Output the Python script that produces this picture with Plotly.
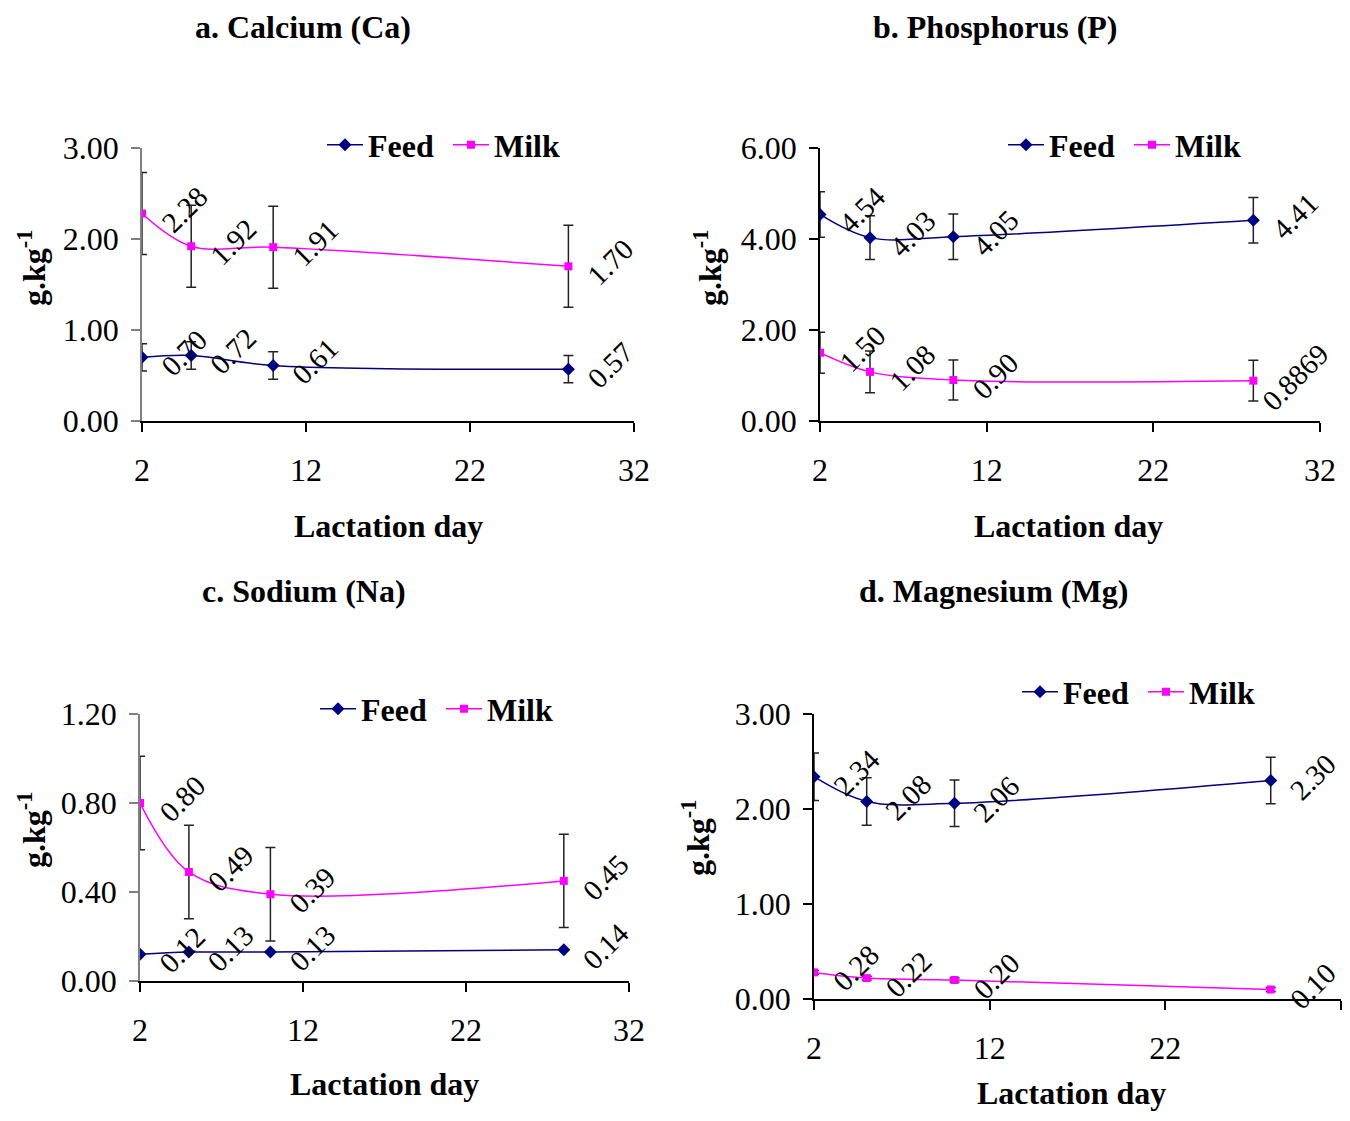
import plotly.graph_objects as go

# ---------------- data ----------------
days = [2, 5, 10, 28]
x_ticks = [2, 12, 22, 32]

ca_feed = [0.70, 0.72, 0.61, 0.57]
ca_feed_err = [0.15, 0.15, 0.15, 0.15]
ca_milk = [2.28, 1.92, 1.91, 1.70]
ca_milk_err = [0.45, 0.45, 0.45, 0.45]

p_feed = [4.54, 4.03, 4.05, 4.41]
p_feed_err = [0.50, 0.48, 0.50, 0.50]
p_milk = [1.50, 1.08, 0.90, 0.8869]
p_milk_err = [0.45, 0.46, 0.44, 0.45]

na_feed = [0.12, 0.13, 0.13, 0.14]
na_feed_err = [0.0, 0.0, 0.0, 0.0]
na_milk = [0.80, 0.49, 0.39, 0.45]
na_milk_err = [0.21, 0.21, 0.21, 0.21]

mg_feed = [2.34, 2.08, 2.06, 2.30]
mg_feed_err = [0.25, 0.25, 0.245, 0.245]
mg_milk = [0.28, 0.22, 0.20, 0.10]
mg_milk_err = [0.02, 0.02, 0.02, 0.02]

titles = ["a. Calcium (Ca)", "b. Phosphorus (P)", "c. Sodium (Na)", "d. Magnesium (Mg)"]
y_ranges = [(0, 3), (0, 6), (0, 1.2), (0, 3)]
y_dticks = [1, 2, 0.4, 1]

# ---------------- layout helpers ----------------
PAGE_W, PAGE_H = 1350, 1121
OFF = 8  # default body margin of the html page
W, H = PAGE_W - 2 * OFF, PAGE_H - 2 * OFF
FONT = "Liberation Serif"
FEED_C = "#000080"
MILK_C = "#FF00FF"


def px_x(p):
    return (p - OFF) / W


def px_y(p):
    return 1 - (p - OFF) / H


# pixel geometry (page pixels) of each panel
panels = [
    dict(x0=142, x1=634, yt=148, yb=421, ycol="#808080",
         title=(303, 27), xt=(388, 526), yt_lab=(32, 268), leg=(322, 145)),
    dict(x0=820, x1=1320, yt=148, yb=421, ycol="#000000",
         title=(995, 27), xt=(1068, 526), yt_lab=(708, 268), leg=(1003, 145)),
    dict(x0=140, x1=629, yt=714, yb=981, ycol="#808080",
         title=(304, 591), xt=(384, 1084), yt_lab=(32, 830), leg=(315, 709)),
    dict(x0=814, x1=1341, yt=714, yb=999, ycol="#000000",
         title=(994, 591), xt=(1071, 1093), yt_lab=(696, 838), leg=(1017, 692)),
]

series = [
    (ca_feed, ca_feed_err, ca_milk, ca_milk_err),
    (p_feed, p_feed_err, p_milk, p_milk_err),
    (na_feed, na_feed_err, na_milk, na_milk_err),
    (mg_feed, mg_feed_err, mg_milk, mg_milk_err),
]


def fmt(v):
    return f"{v:.2f}" if round(v, 2) == v else str(v)


fig = go.Figure()
annotations = []
layout = {}

for i, (pn, (fv, fe, mv, me)) in enumerate(zip(panels, series)):
    k = "" if i == 0 else str(i + 1)
    xa, ya = "x" + k, "y" + k
    leg = "legend" if i == 0 else f"legend{i + 1}"

    for name, vals, errs, col, sym, msize in [
        ("Feed", fv, fe, FEED_C, "diamond", 10),
        ("Milk", mv, me, MILK_C, "square", 8),
    ]:
        fig.add_trace(go.Scatter(
            x=days, y=vals, mode="lines+markers", name=f"<b>{name}</b>",
            line=dict(color=col, width=1.5, shape="spline", smoothing=1.0),
            marker=dict(symbol=sym, size=msize, color=col),
            error_y=dict(type="data", array=errs, visible=True,
                         color="#222222", thickness=1.5, width=5),
            xaxis=xa, yaxis=ya, legend=leg, hoverinfo="skip",
        ))
        for d, v in zip(days, vals):
            annotations.append(dict(
                x=d, y=v, xref=xa, yref=ya, text=fmt(v), showarrow=False,
                textangle=-45, xshift=42, yshift=4,
                font=dict(family=FONT, size=29, color="black"),
            ))

    ymin, ymax = y_ranges[i]
    layout["xaxis" + k] = dict(
        domain=[px_x(pn["x0"]), min(1, px_x(pn["x1"]))], anchor=ya,
        automargin=False,
        range=[2, 32], tickvals=x_ticks, showline=True, linecolor="black",
        linewidth=1.5, ticks="outside", ticklen=9, tickcolor="black",
        tickwidth=1.5, showgrid=False, zeroline=False, ticklabelstandoff=11,
        tickfont=dict(family=FONT, size=32, color="black"),
    )
    layout["yaxis" + k] = dict(
        domain=[px_y(pn["yb"]), px_y(pn["yt"])], anchor=xa, automargin=False,
        range=[ymin, ymax], dtick=y_dticks[i], tickformat=".2f",
        showline=True, linecolor=pn["ycol"], linewidth=1.5, ticks="outside",
        ticklen=9, tickcolor=pn["ycol"], tickwidth=1.5, showgrid=False,
        zeroline=False, ticklabelstandoff=6,
        tickfont=dict(family=FONT, size=32, color="black"),
    )
    layout[leg] = dict(
        x=px_x(pn["leg"][0]), y=px_y(pn["leg"][1]), xanchor="left",
        yanchor="middle", orientation="h", bgcolor="rgba(0,0,0,0)",
        font=dict(family=FONT, size=32, color="black"), itemwidth=36,
        entrywidth=75, entrywidthmode="pixels", tracegroupgap=0,
    )
    annotations.append(dict(
        x=px_x(pn["title"][0]), y=px_y(pn["title"][1]), xref="paper",
        yref="paper", text=f"<b>{titles[i]}</b>", showarrow=False,
        xanchor="center", yanchor="middle",
        font=dict(family=FONT, size=32, color="black"),
    ))
    annotations.append(dict(
        x=px_x(pn["xt"][0]), y=px_y(pn["xt"][1]), xref="paper", yref="paper",
        text="<b>Lactation day</b>", showarrow=False, xanchor="center",
        yanchor="middle", font=dict(family=FONT, size=32, color="black"),
    ))
    annotations.append(dict(
        x=px_x(pn["yt_lab"][0]), y=px_y(pn["yt_lab"][1]), xref="paper",
        yref="paper", text="<b>g.kg<sup>-1</sup></b>", showarrow=False,
        textangle=-90, xanchor="center", yanchor="middle",
        font=dict(family=FONT, size=32, color="black"),
    ))

fig.update_layout(
    width=W, height=H, margin=dict(l=0, r=0, t=0, b=0, autoexpand=False),
    paper_bgcolor="white", plot_bgcolor="white",
    font=dict(family=FONT, color="black"),
    annotations=annotations, **layout,
)

fig.write_html("out.html")
